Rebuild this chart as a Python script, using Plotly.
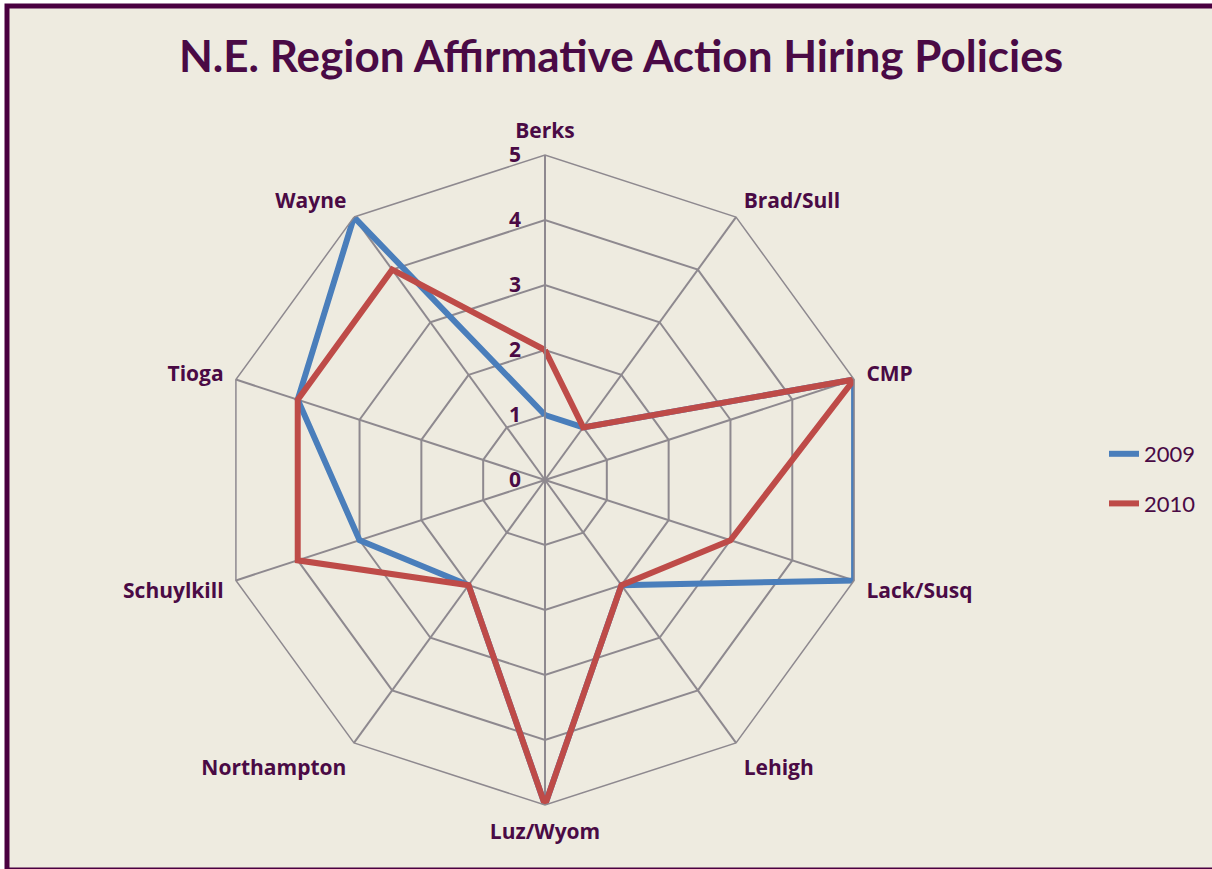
import plotly.graph_objects as go

categories = ["Berks", "Brad/Sull", "CMP", "Lack/Susq", "Lehigh", "Luz/Wyom",
              "Northampton", "Schuylkill", "Tioga", "Wayne"]
values_2009 = [1, 1, 5, 5, 2, 5, 2, 3, 4, 5]
values_2010 = [2, 1, 5, 3, 2, 5, 2, 4, 4, 4]
radial_ticks = [0, 1, 2, 3, 4, 5]

W, H = 1212, 869
TXT = "#4A0A45"
GRID = "#8E898F"
BG = "#EEEBE0"

def close(lst):
    return lst + lst[:1]

fig = go.Figure()
fig.add_trace(go.Scatterpolar(
    r=close(values_2009), theta=close(categories), mode="lines", name="2009",
    legendgroup="a", line=dict(color="#4A7EBB", width=6)))
fig.add_trace(go.Scatterpolar(
    r=close(values_2010), theta=close(categories), mode="lines", name="2010",
    legendgroup="b", line=dict(color="#BE4B48", width=6)))

cx, cy, R = 545, 480, 325
fig.update_layout(
    width=W, height=H,
    margin=dict(l=0, r=0, t=0, b=0, autoexpand=False),
    paper_bgcolor="white",
    title=dict(text="N.E. Region Affirmative Action Hiring Policies",
               x=621 / W, xanchor="center", y=1 - 57 / H, yanchor="middle",
               font=dict(family="Lato", size=44, color=TXT, weight="bold")),
    polar=dict(
        domain=dict(x=[(cx - R) / W, (cx + R) / W],
                    y=[1 - (cy + R) / H, 1 - (cy - R) / H]),
        bgcolor="rgba(0,0,0,0)",
        gridshape="linear",
        radialaxis=dict(range=[0, 5], tickvals=radial_ticks, angle=90,
                        side="counterclockwise", tickangle=90,
                        showline=True, linecolor=GRID, linewidth=1.5,
                        gridcolor=GRID, gridwidth=1.5,
                        ticks="outside", ticklen=16, tickcolor="rgba(0,0,0,0)",
                        tickfont=dict(family="Open Sans", size=21, color=TXT, weight="bold")),
        angularaxis=dict(direction="clockwise", rotation=90,
                         showline=True, linecolor=GRID, linewidth=1.5,
                         gridcolor=GRID, gridwidth=1.5,
                         ticks="outside", ticklen=8, tickcolor="rgba(0,0,0,0)",
                         tickfont=dict(family="Open Sans", size=21, color=TXT, weight="bold")),
    ),
    legend=dict(x=1104 / W, y=1 - 479 / H, xanchor="left", yanchor="middle",
                bgcolor="rgba(0,0,0,0)",
                font=dict(family="Lato", size=22, color=TXT),
                tracegroupgap=18),
    showlegend=True,
    shapes=[dict(type="rect", xref="paper", yref="paper", layer="below",
                 x0=7 / W, x1=1.05, y0=1 - 870 / H, y1=1 - 6 / H,
                 fillcolor=BG, line=dict(color="#4A0040", width=5))],
)

fig.write_html("out.html", config={"displayModeBar": False},
               post_script="document.body.style.margin='0';document.body.style.overflow='hidden';")
